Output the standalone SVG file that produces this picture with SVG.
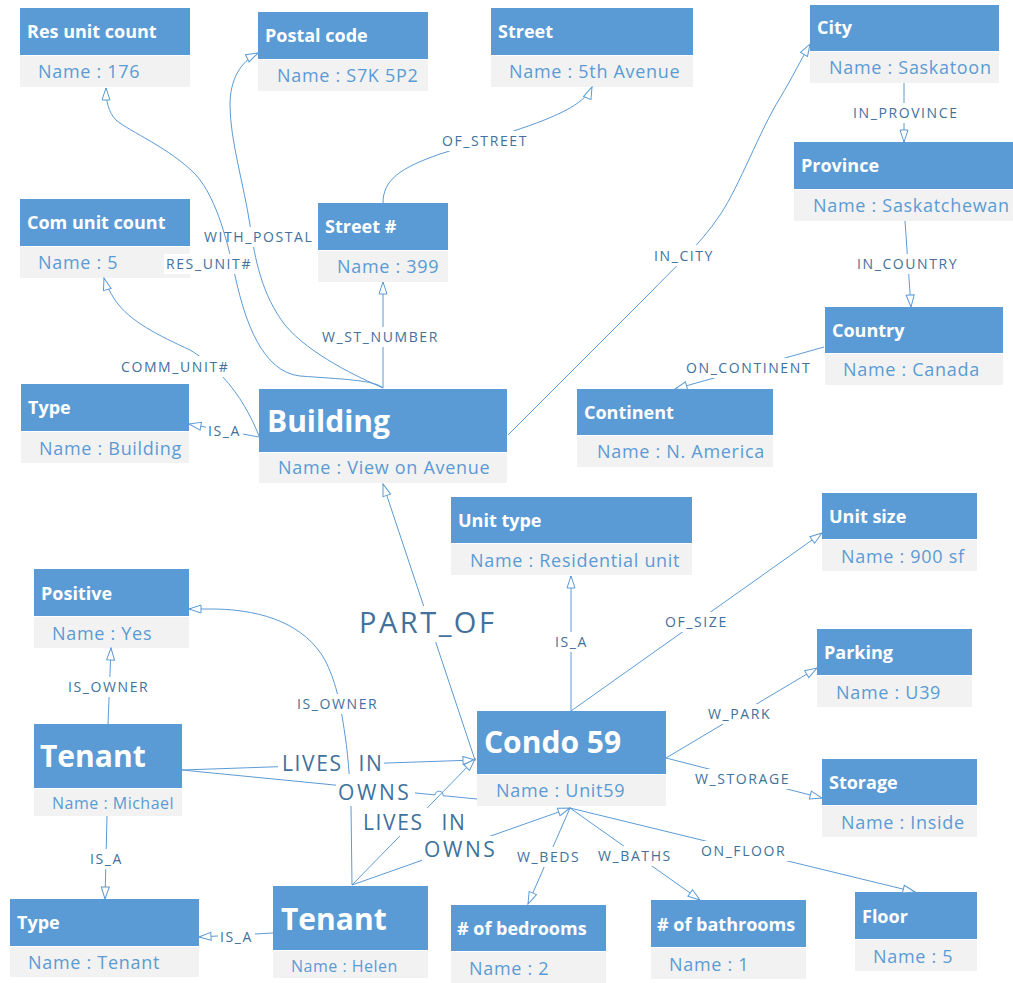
<svg xmlns="http://www.w3.org/2000/svg" width="1013" height="983" viewBox="0 0 1013 983">
  <style>
    .hdr { fill: #5B9BD5; }
    .bd { fill: #F2F2F2; }
    text { font-family: "Open Sans", "Liberation Sans", sans-serif; }
    .ttl { font-weight: 700; font-size: 18px; fill: #FFFFFF; }
    .ttl-lg { font-size: 30px; }
    .nm { font-size: 18px; fill: #5B9BD5; letter-spacing: 0.7px; }
    .nm-sm { font-size: 16px; letter-spacing: 0.5px; }
    .edge { fill: none; stroke: #5B9BD5; stroke-width: 1; }
    .arr { marker-end: url(#open); }
    .lbl { font-size: 14px; fill: #41719C; letter-spacing: 1.6px; }
    .lbl-lg { font-size: 21px; letter-spacing: 1.6px; word-spacing: 9px; }
    .lbl-xl { font-size: 29px; letter-spacing: 2.5px; }
    .bg { fill: #FFFFFF; }
  </style>
  <defs>
    <marker id="open" viewBox="0 0 14 10" refX="13" refY="5" markerWidth="14" markerHeight="10" markerUnits="userSpaceOnUse" orient="auto">
      <path d="M1,1 L13,5 L1,9 Z" fill="#FFFFFF" stroke="#5B9BD5" stroke-width="1"/>
    </marker>
  </defs>

  <rect width="1013" height="983" fill="#FFFFFF"/>

  <g id="nodes">
    <g id="res-unit-count">
      <rect class="hdr" x="20" y="8" width="170" height="47"/>
      <rect class="bd" x="20" y="56" width="170" height="31"/>
      <text class="ttl" x="27" y="38">Res unit count</text>
      <text class="nm" x="38" y="78">Name : 176</text>
    </g>
    <g id="postal-code">
      <rect class="hdr" x="258" y="12" width="170" height="47"/>
      <rect class="bd" x="258" y="60" width="170" height="31"/>
      <text class="ttl" x="265" y="42">Postal code</text>
      <text class="nm" x="277" y="82">Name : S7K 5P2</text>
    </g>
    <g id="street">
      <rect class="hdr" x="491" y="8" width="202" height="47"/>
      <rect class="bd" x="491" y="56" width="202" height="31"/>
      <text class="ttl" x="498" y="38">Street</text>
      <text class="nm" x="509" y="78">Name : 5th Avenue</text>
    </g>
    <g id="city">
      <rect class="hdr" x="810" y="5" width="189" height="46"/>
      <rect class="bd" x="810" y="52" width="189" height="31"/>
      <text class="ttl" x="817" y="34">City</text>
      <text class="nm" x="829" y="74">Name : Saskatoon</text>
    </g>
    <g id="province">
      <rect class="hdr" x="794" y="142" width="219" height="47"/>
      <rect class="bd" x="794" y="190" width="219" height="31"/>
      <text class="ttl" x="801" y="172">Province</text>
      <text class="nm" x="813" y="212">Name : Saskatchewan</text>
    </g>
    <g id="country">
      <rect class="hdr" x="825" y="307" width="178" height="46"/>
      <rect class="bd" x="825" y="354" width="178" height="31"/>
      <text class="ttl" x="832" y="337">Country</text>
      <text class="nm" x="843" y="376">Name : Canada</text>
    </g>
    <g id="continent">
      <rect class="hdr" x="577" y="389" width="196" height="46"/>
      <rect class="bd" x="577" y="436" width="196" height="31"/>
      <text class="ttl" x="584" y="419">Continent</text>
      <text class="nm" x="597" y="458">Name : N. America</text>
    </g>
    <g id="com-unit-count">
      <rect class="hdr" x="20" y="199" width="170" height="47"/>
      <rect class="bd" x="20" y="247" width="170" height="31"/>
      <text class="ttl" x="27" y="229">Com unit count</text>
      <text class="nm" x="38" y="269">Name : 5</text>
    </g>
    <g id="street-number">
      <rect class="hdr" x="318" y="203" width="130" height="47"/>
      <rect class="bd" x="318" y="251" width="130" height="31"/>
      <text class="ttl" x="325" y="233">Street #</text>
      <text class="nm" x="337" y="273">Name : 399</text>
    </g>
    <g id="type-building">
      <rect class="hdr" x="21" y="384" width="168" height="47"/>
      <rect class="bd" x="21" y="432" width="168" height="31"/>
      <text class="ttl" x="28" y="414">Type</text>
      <text class="nm" x="39" y="455">Name : Building</text>
    </g>
    <g id="building">
      <rect class="hdr" x="259" y="389" width="248" height="63"/>
      <rect class="bd" x="259" y="453" width="248" height="30"/>
      <text class="ttl ttl-lg" x="267" y="432">Building</text>
      <text class="nm" x="278" y="474">Name : View on Avenue</text>
    </g>
    <g id="unit-type">
      <rect class="hdr" x="451" y="497" width="241" height="46"/>
      <rect class="bd" x="451" y="544" width="241" height="31"/>
      <text class="ttl" x="458" y="527">Unit type</text>
      <text class="nm" x="470" y="567">Name : Residential unit</text>
    </g>
    <g id="unit-size">
      <rect class="hdr" x="822" y="493" width="155" height="46"/>
      <rect class="bd" x="822" y="540" width="155" height="31"/>
      <text class="ttl" x="829" y="523">Unit size</text>
      <text class="nm" x="841" y="563">Name : 900 sf</text>
    </g>
    <g id="positive">
      <rect class="hdr" x="34" y="569" width="155" height="47"/>
      <rect class="bd" x="34" y="617" width="155" height="31"/>
      <text class="ttl" x="41" y="600">Positive</text>
      <text class="nm" x="52" y="640">Name : Yes</text>
    </g>
    <g id="parking">
      <rect class="hdr" x="817" y="629" width="155" height="46"/>
      <rect class="bd" x="817" y="676" width="155" height="31"/>
      <text class="ttl" x="824" y="659">Parking</text>
      <text class="nm" x="836" y="699">Name : U39</text>
    </g>
    <g id="condo-59">
      <rect class="hdr" x="477" y="711" width="189" height="63"/>
      <rect class="bd" x="477" y="775" width="189" height="31"/>
      <text class="ttl ttl-lg" x="484" y="753">Condo 59</text>
      <text class="nm" x="496" y="797">Name : Unit59</text>
    </g>
    <g id="storage">
      <rect class="hdr" x="822" y="759" width="155" height="46"/>
      <rect class="bd" x="822" y="806" width="155" height="31"/>
      <text class="ttl" x="829" y="789">Storage</text>
      <text class="nm" x="841" y="829">Name : Inside</text>
    </g>
    <g id="tenant-michael">
      <rect class="hdr" x="34" y="724" width="148" height="64"/>
      <rect class="bd" x="34" y="789" width="148" height="27"/>
      <text class="ttl ttl-lg" x="40" y="767">Tenant</text>
      <text class="nm nm-sm" x="52" y="809">Name : Michael</text>
    </g>
    <g id="type-tenant">
      <rect class="hdr" x="10" y="899" width="189" height="47"/>
      <rect class="bd" x="10" y="947" width="189" height="30"/>
      <text class="ttl" x="17" y="929">Type</text>
      <text class="nm" x="28" y="969">Name : Tenant</text>
    </g>
    <g id="tenant-helen">
      <rect class="hdr" x="273" y="886" width="155" height="64"/>
      <rect class="bd" x="273" y="951" width="155" height="27"/>
      <text class="ttl ttl-lg" x="281" y="930">Tenant</text>
      <text class="nm nm-sm" x="291" y="972">Name : Helen</text>
    </g>
    <g id="bedrooms">
      <rect class="hdr" x="451" y="905" width="155" height="46"/>
      <rect class="bd" x="451" y="952" width="155" height="31"/>
      <text class="ttl" x="457" y="935"># of bedrooms</text>
      <text class="nm" x="469" y="975">Name : 2</text>
    </g>
    <g id="bathrooms">
      <rect class="hdr" x="651" y="900" width="155" height="47"/>
      <rect class="bd" x="651" y="948" width="155" height="31"/>
      <text class="ttl" x="657" y="931"># of bathrooms</text>
      <text class="nm" x="669" y="971">Name : 1</text>
    </g>
    <g id="floor">
      <rect class="hdr" x="855" y="892" width="122" height="47"/>
      <rect class="bd" x="855" y="940" width="122" height="31"/>
      <text class="ttl" x="862" y="923">Floor</text>
      <text class="nm" x="873" y="963">Name : 5</text>
    </g>
  </g>

  <g id="connectors">
    <!-- Building -> Postal code -->
    <path class="edge arr" d="M383,388 C360,378 310,355 285,325 C262,295 255,260 250,225 C244,185 230,140 230,105 C230,80 240,62 258,53"/>
    <rect class="bg" x="202" y="227" width="115" height="20"/>
    <text class="lbl" x="204" y="242">WITH_POSTAL</text>

    <!-- Building -> Res unit count -->
    <path class="edge arr" d="M383,388 C375,380 340,379 300,376 C262,372 245,320 236,280 C228,245 218,200 196,175 C170,148 130,132 116,120 C108,112 106,100 106,88"/>
    <rect class="bg" x="164" y="254" width="89" height="20"/>
    <text class="lbl" x="166" y="269">RES_UNIT#</text>

    <!-- Building -> Street # -->
    <path class="edge arr" d="M383,388 L383,282"/>
    <rect class="bg" x="320" y="327" width="128" height="20"/>
    <text class="lbl" x="322" y="342">W_ST_NUMBER</text>

    <!-- Street # -> Street -->
    <path class="edge arr" d="M383,203 C383,180 400,168 440,154 C490,138 540,125 570,108 C582,101 589,94 592,87"/>
    <rect class="bg" x="440" y="131" width="89" height="20"/>
    <text class="lbl" x="442" y="146">OF_STREET</text>

    <!-- Building -> Com unit count -->
    <path class="edge arr" d="M259,436 C252,418 240,395 222,376 C205,360 200,356 190,350 C160,336 130,322 115,300 C110,292 106,285 104,278"/>
    <rect class="bg" x="119" y="356" width="116" height="21"/>
    <text class="lbl" x="121" y="372">COMM_UNIT#</text>

    <!-- Building -> Type -->
    <path class="edge arr" d="M259,437 L189,424"/>
    <rect class="bg" x="206" y="421" width="37" height="20"/>
    <text class="lbl" x="208" y="436">IS_A</text>

    <!-- Building -> City -->
    <path class="edge arr" d="M508,435 L650,293 C670,272 700,245 720,215 C740,185 760,130 780,98 C792,78 802,58 810,44"/>
    <rect class="bg" x="652" y="245" width="62" height="21"/>
    <text class="lbl" x="654" y="261">IN_CITY</text>

    <!-- City -> Province -->
    <path class="edge arr" d="M904,83 L904,142"/>
    <rect class="bg" x="851" y="103" width="110" height="20"/>
    <text class="lbl" x="853" y="118">IN_PROVINCE</text>

    <!-- Province -> Country -->
    <path class="edge arr" d="M905,221 L911,307"/>
    <rect class="bg" x="855" y="254" width="106" height="20"/>
    <text class="lbl" x="857" y="269">IN_COUNTRY</text>

    <!-- Country -> Continent -->
    <path class="edge arr" d="M824,347 L675,389"/>
    <rect class="bg" x="684" y="358" width="132" height="20"/>
    <text class="lbl" x="686" y="373">ON_CONTINENT</text>

    <!-- Condo 59 -> Building -->
    <path class="edge arr" d="M475,760 L383,484"/>
    <rect class="bg" x="357" y="606" width="145" height="36"/>
    <text class="lbl lbl-xl" x="359" y="633">PART_OF</text>

    <!-- Tenant (Michael) -> Positive -->
    <path class="edge arr" d="M108,724 L111,648"/>
    <rect class="bg" x="66" y="677" width="88" height="20"/>
    <text class="lbl" x="68" y="692">IS_OWNER</text>

    <!-- Tenant (Michael) -> Condo 59 : lives in -->
    <path class="edge arr" d="M182,770 L475,760"/>
    <rect class="bg" x="278" y="750" width="106" height="28"/>
    <text class="lbl lbl-lg" x="282" y="771">LIVES IN</text>

    <!-- Tenant (Helen) -> Positive -->
    <path class="edge arr" d="M352,885 L351,807 C350,790 349,760 345,735 C340,700 335,680 325,660 C305,625 265,610 215,609 L189,609"/>
    <rect class="bg" x="295" y="694" width="87" height="20"/>
    <text class="lbl" x="297" y="709">IS_OWNER</text>

    <!-- Tenant (Michael) -> Condo 59 : owns (hops over the Helen line) -->
    <path class="edge" d="M182,770 L435,794.9 A4,4 0 0 1 443,795.7 L477,799"/>
    <rect class="bg" x="336" y="774" width="79" height="32"/>
    <text class="lbl lbl-lg" x="338" y="800" style="letter-spacing:2.6px">OWNS</text>

    <!-- Tenant (Helen) -> Condo 59 : lives in -->
    <path class="edge arr" d="M352,885 L475,759"/>
    <rect class="bg" x="361" y="808" width="106" height="28"/>
    <text class="lbl lbl-lg" x="363" y="830" style="word-spacing:11px">LIVES IN</text>

    <!-- Tenant (Helen) -> Condo 59 : owns -->
    <path class="edge arr" d="M352,885 L570,808"/>
    <rect class="bg" x="422" y="836" width="78" height="27"/>
    <text class="lbl lbl-lg" x="424" y="857" style="letter-spacing:2.6px">OWNS</text>

    <!-- Tenant (Michael) -> Type -->
    <path class="edge arr" d="M107,816 L105,899"/>
    <rect class="bg" x="88" y="849" width="37" height="20"/>
    <text class="lbl" x="90" y="864">IS_A</text>

    <!-- Tenant (Helen) -> Type -->
    <path class="edge arr" d="M273,933 L199,937"/>
    <rect class="bg" x="218" y="927" width="37" height="20"/>
    <text class="lbl" x="220" y="942">IS_A</text>

    <!-- Condo 59 -> Unit type -->
    <path class="edge arr" d="M571,711 L571,576"/>
    <rect class="bg" x="553" y="632" width="38" height="20"/>
    <text class="lbl" x="555" y="647">IS_A</text>

    <!-- Condo 59 -> Unit size -->
    <path class="edge arr" d="M571,711 L822,533"/>
    <rect class="bg" x="663" y="612" width="67" height="20"/>
    <text class="lbl" x="665" y="627">OF_SIZE</text>

    <!-- Condo 59 -> Parking -->
    <path class="edge arr" d="M666,758 L817,668"/>
    <rect class="bg" x="706" y="704" width="71" height="20"/>
    <text class="lbl" x="708" y="719">W_PARK</text>

    <!-- Condo 59 -> Storage -->
    <path class="edge arr" d="M666,758 L822,798"/>
    <rect class="bg" x="693" y="769" width="103" height="20"/>
    <text class="lbl" x="695" y="784">W_STORAGE</text>

    <!-- Condo 59 -> # of bedrooms -->
    <path class="edge arr" d="M570,808 L528,904"/>
    <rect class="bg" x="515" y="847" width="69" height="20"/>
    <text class="lbl" x="517" y="862">W_BEDS</text>

    <!-- Condo 59 -> # of bathrooms -->
    <path class="edge arr" d="M570,808 L700,900"/>
    <rect class="bg" x="596" y="846" width="81" height="20"/>
    <text class="lbl" x="598" y="861">W_BATHS</text>

    <!-- Condo 59 -> Floor -->
    <path class="edge arr" d="M570,808 L915,892"/>
    <rect class="bg" x="699" y="841" width="91" height="20"/>
    <text class="lbl" x="701" y="856">ON_FLOOR</text>
  </g>
</svg>
